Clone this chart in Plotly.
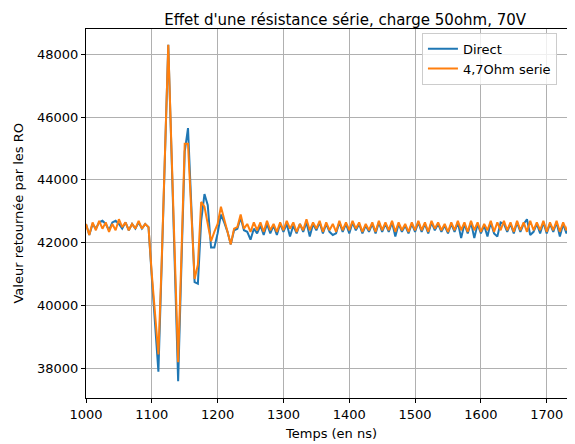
import plotly.graph_objects as go

# Time axis (ns), sample step 5 ns
t_start = 1000
t_step = 5

direct = [
    42600, 42250, 42600, 42450, 42650, 42700, 42600, 42400, 42650, 42700,
    42600, 42450, 42650, 42400, 42600, 42450, 42650, 42450, 42600, 42500,
    40900, 39500, 37900, 41300, 44800, 48300, 44800, 41000, 37600, 41300,
    44900, 45650, 43100, 40750, 40700, 42700, 43550, 43200, 41850, 41850,
    42300, 42900, 42650, 42350, 41950, 42400, 42450, 42800, 42400, 42350,
    42100, 42450,
    42300, 42550, 42250, 42600, 42300, 42550, 42250, 42600, 42350, 42600,
    42200, 42550, 42300, 42600, 42350, 42650, 42200, 42600, 42400, 42650,
    42300, 42600, 42350, 42250, 42300, 42650, 42350, 42600, 42300, 42650,
    42400, 42600, 42300, 42550, 42350, 42600, 42300, 42650, 42350, 42600,
    42350, 42650, 42200, 42600, 42350, 42550, 42300, 42600, 42350, 42650,
    42350, 42600, 42300, 42650, 42400, 42600, 42350, 42550, 42300, 42600,
    42350, 42650, 42150, 42600, 42300, 42650, 42150, 42600, 42300, 42550,
    42200, 42650, 42300, 42200, 42650, 42600, 42350, 42600, 42300, 42650,
    42350, 42600, 42750, 42250, 42350, 42600, 42300, 42650, 42300, 42600,
    42350, 42650, 42200, 42600, 42300, 42650, 42200, 42600,
]

serie_47 = [
    42600, 42250, 42650, 42400, 42700, 42450, 42650, 42350, 42600, 42400,
    42750, 42500, 42650, 42400, 42600, 42450, 42700, 42450, 42600, 42500,
    41000, 39700, 38450, 41400, 44900, 48300, 44900, 41400, 38200, 41600,
    45150, 45150, 43000, 40850, 41300, 43300, 43150, 42600, 42050, 42350,
    42600, 43150, 42700, 42350, 41950, 42450, 42500, 42900, 42450, 42600,
    42350, 42650,
    42400, 42650, 42350, 42700, 42400, 42600, 42350, 42650, 42400, 42700,
    42450, 42650, 42350, 42600, 42400, 42750, 42400, 42650, 42450, 42700,
    42350, 42650, 42400, 42600, 42350, 42700, 42400, 42650, 42400, 42700,
    42450, 42650, 42350, 42600, 42400, 42650, 42350, 42700, 42400, 42650,
    42400, 42700, 42350, 42650, 42400, 42600, 42350, 42650, 42400, 42700,
    42400, 42650, 42350, 42700, 42450, 42650, 42400, 42600, 42350, 42650,
    42400, 42700, 42400, 42650, 42350, 42700, 42400, 42650, 42350, 42600,
    42400, 42700, 42350, 42650, 42400, 42700, 42400, 42650, 42350, 42700,
    42400, 42650, 42350, 42700, 42400, 42650, 42400, 42700, 42350, 42650,
    42400, 42700, 42350, 42650, 42400, 42700, 42350, 42650,
]

times = [t_start + i * t_step for i in range(len(direct))]

x_ticks = [1000, 1100, 1200, 1300, 1400, 1500, 1600, 1700]
y_ticks = [38000, 40000, 42000, 44000, 46000, 48000]

title_text = "Effet d'une résistance série, charge 50ohm, 70V"
x_label = "Temps (en ns)"
y_label = "Valeur retournée par les RO"

FONT = "DejaVu Sans"

fig = go.Figure()
fig.add_trace(go.Scatter(x=times, y=direct, mode="lines", name="Direct",
                         line=dict(color="#1f77b4", width=2)))
fig.add_trace(go.Scatter(x=times, y=serie_47, mode="lines", name="4,7Ohm serie",
                         line=dict(color="#ff7f0e", width=2)))

# page body has an 8px margin: figure is sized to fill the rest of the window
fig.update_layout(
    width=567, height=436,
    margin=dict(l=78, r=0, t=21, b=46, autoexpand=False),
    paper_bgcolor="white", plot_bgcolor="white",
    font=dict(family=FONT, size=13, color="black"),
    title=dict(text=title_text,
               x=0.53, xref="paper", xanchor="center",
               y=1 - 12 / 436, yref="container", yanchor="middle",
               pad=dict(t=0, b=0, l=0, r=0),
               font=dict(family=FONT, size=15, color="black")),
    legend=dict(x=0.687, y=0.99, xanchor="left", yanchor="top",
                bgcolor="rgba(255,255,255,0.8)", bordercolor="#cccccc",
                borderwidth=1, font=dict(family=FONT, size=13, color="black")),
    showlegend=True,
    annotations=[
        dict(text=x_label, x=0.5, y=-0.095, xref="paper", yref="paper",
             xanchor="center", yanchor="middle", showarrow=False,
             font=dict(family=FONT, size=13, color="black")),
        dict(text=y_label, x=-0.139, y=0.5, xref="paper", yref="paper",
             xanchor="center", yanchor="middle", showarrow=False, textangle=-90,
             font=dict(family=FONT, size=13, color="black")),
    ],
)
fig.update_xaxes(
    range=[1000, 1743], tickvals=x_ticks, ticktext=[str(v) for v in x_ticks],
    showgrid=True, gridcolor="#b0b0b0", gridwidth=0.8,
    showline=True, linecolor="black", linewidth=1, mirror=True,
    ticks="outside", ticklen=4, tickcolor="black", zeroline=False,
    automargin=False,
    tickfont=dict(family=FONT, size=13, color="black"),
)
fig.update_yaxes(
    range=[37065, 48800], tickvals=y_ticks, ticktext=[str(v) for v in y_ticks],
    showgrid=True, gridcolor="#b0b0b0", gridwidth=0.8,
    showline=True, linecolor="black", linewidth=1,
    ticks="outside", ticklen=4, tickcolor="black", zeroline=False,
    automargin=False,
    tickfont=dict(family=FONT, size=13, color="black"),
)

fig.write_html("out.html")
